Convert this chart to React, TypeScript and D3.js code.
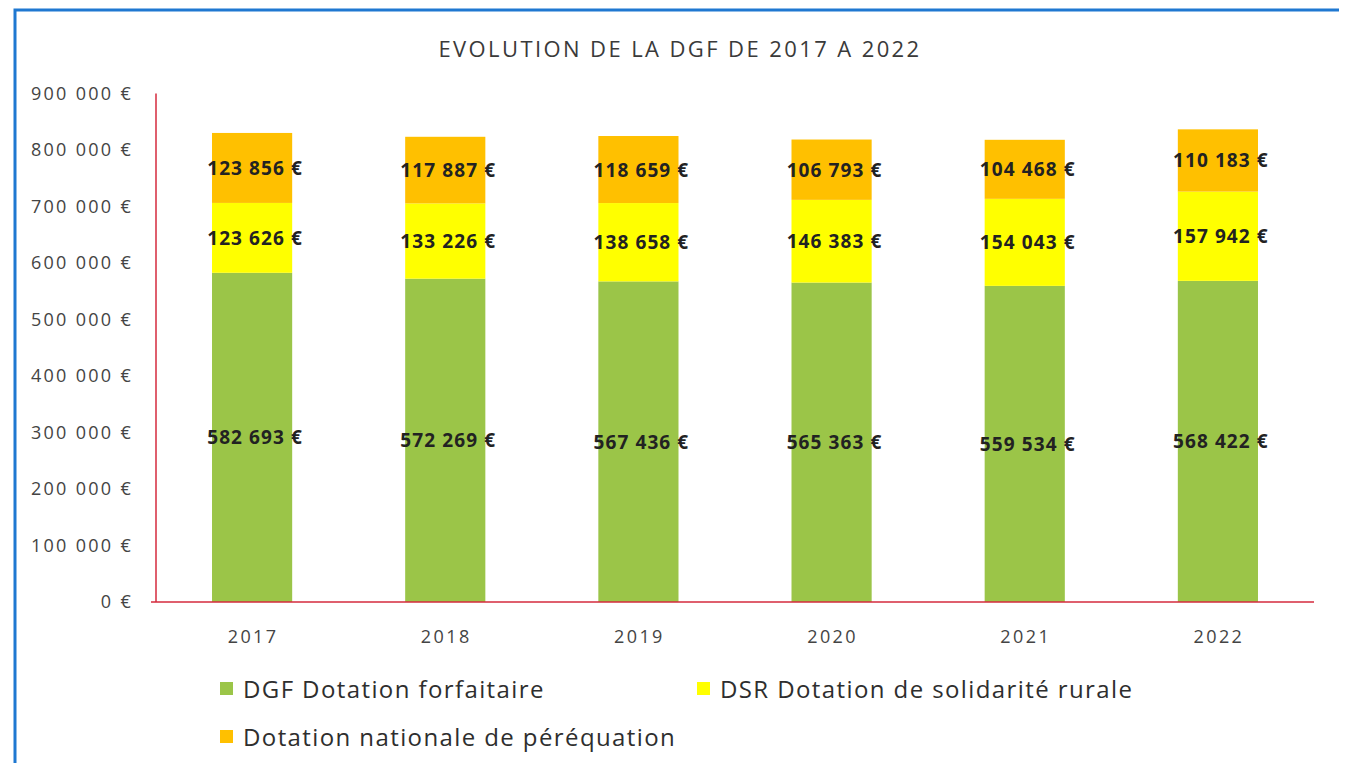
import React from "react";
import * as d3 from "d3";

const years = ["2017", "2018", "2019", "2020", "2021", "2022"];
const dgfForfaitaire = [582693, 572269, 567436, 565363, 559534, 568422];
const dsrRurale = [123626, 133226, 138658, 146383, 154043, 157942];
const dnPerequation = [123856, 117887, 118659, 106793, 104468, 110183];
const seriesNames = [
  "DGF Dotation forfaitaire",
  "DSR Dotation de solidarité rurale",
  "Dotation nationale de péréquation",
];
const seriesColors = ["#9BC548", "#FFFF00", "#FFC000"];
const yTicks = [0, 100000, 200000, 300000, 400000, 500000, 600000, 700000, 800000, 900000];
const title = "EVOLUTION DE LA DGF DE 2017 A 2022";

const W = 1347;
const H = 771;
const FONT = "'Open Sans', 'DejaVu Sans', sans-serif";

const fmt = (v: number) => d3.format(",")(v).replace(/,/g, " ") + " €";

export default function App() {
  const left = 156;
  const right = 1314;
  const top = 93.5;
  const bottom = 602;

  const x = d3.scaleBand<string>().domain(years).range([left, right]).paddingInner(0.585).paddingOuter(0.29);
  const y = d3.scaleLinear().domain([0, 900000]).range([bottom, top]);

  const rows = years.map((yr, i) => ({
    year: yr,
    s0: dgfForfaitaire[i],
    s1: dsrRurale[i],
    s2: dnPerequation[i],
  }));
  const stack = d3.stack<any>().keys(["s0", "s1", "s2"]);
  const stacked = stack(rows);

  return (
    <div style={{ margin: -8 }}>
      <svg width={W} height={H} style={{ display: "block", background: "#fff" }}>
        <rect x={15} y={10} width={1326} height={H + 20} fill="none" stroke="#1f78d1" strokeWidth={3} />
        <text x={680} y={57} textAnchor="middle" fontFamily={FONT} fontSize={22} fill="#3a3a3a" letterSpacing={2.4}>
          {title}
        </text>
        {yTicks.map((t) => (
          <text key={t} x={133} y={y(t) + 6} textAnchor="end" fontFamily={FONT} fontSize={18} fill="#444" letterSpacing={2.3}>
            {fmt(t)}
          </text>
        ))}
        {stacked.map((layer, si) =>
          layer.map((d, i) => (
            <rect
              key={si + "-" + i}
              x={x(years[i])!}
              y={y(d[1])}
              width={x.bandwidth()}
              height={y(d[0]) - y(d[1])}
              fill={seriesColors[si]}
            />
          ))
        )}
        <line x1={156} x2={156} y1={top} y2={bottom} stroke="#d42a3c" strokeWidth={1.5} />
        <line x1={151} x2={right} y1={bottom} y2={bottom} stroke="#d42a3c" strokeWidth={1.5} />
        {stacked.map((layer, si) =>
          layer.map((d, i) => (
            <text
              key={"l" + si + "-" + i}
              x={x(years[i])! + x.bandwidth() / 2 + 3}
              y={(y(d[0]) + y(d[1])) / 2 + 7}
              textAnchor="middle"
              fontFamily={FONT}
              fontSize={19}
              fontWeight={700}
              fill="#222"
              letterSpacing={1.1}
            >
              {fmt(d[1] - d[0])}
            </text>
          ))
        )}
        {years.map((yr) => (
          <text key={yr} x={x(yr)! + x.bandwidth() / 2 + 1} y={643} textAnchor="middle" fontFamily={FONT} fontSize={18} fill="#444" letterSpacing={2.4}>
            {yr}
          </text>
        ))}
        {[
          { i: 0, lx: 220, ly: 690 },
          { i: 1, lx: 697, ly: 690 },
          { i: 2, lx: 220, ly: 738 },
        ].map(({ i, lx, ly }) => (
          <g key={i}>
            <rect x={lx} y={ly - 8} width={13} height={13} fill={seriesColors[i]} />
            <text x={lx + 23} y={ly + 8} fontFamily={FONT} fontSize={24} fill="#2e2e2e" letterSpacing={1.4}>
              {seriesNames[i]}
            </text>
          </g>
        ))}
      </svg>
    </div>
  );
}
